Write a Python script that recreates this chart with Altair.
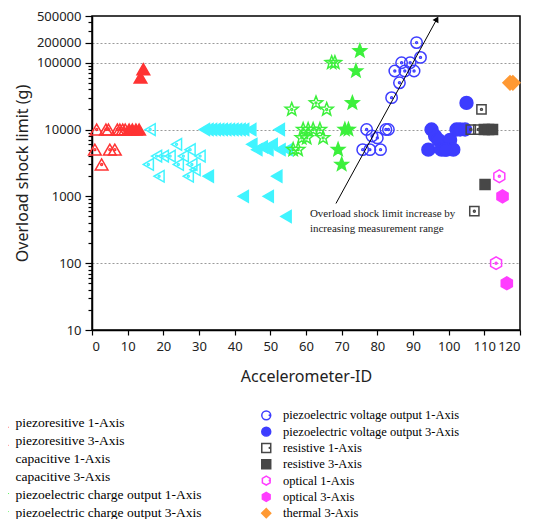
import math
import altair as alt
import pandas as pd

# ---------------- data ----------------
LEFT_NAMES = ["piezoresitive 1-Axis", "piezoresitive 3-Axis",
              "capacitive 1-Axis", "capacitive 3-Axis",
              "piezoelectric charge output 1-Axis", "piezoelectric charge output 3-Axis"]
RIGHT_NAMES = ["piezoelectric voltage output 1-Axis", "piezoelectric voltage output 3-Axis",
               "resistive 1-Axis", "resistive 3-Axis",
               "optical 1-Axis", "optical 3-Axis", "thermal 3-Axis"]

pr1_x = [1.3, 3.9, 4.6, 7.1, 7.8, 8.6, 9.3, 0.8, 2.7, 5.0, 6.4]
pr1_y = [10000, 10000, 10000, 10000, 10000, 10000, 10000, 5000, 3000, 5000, 5000]
pr3_x = [10.4, 11.3, 12.3, 13.2, 13.6, 14.4]
pr3_y = [10000, 10000, 10000, 10000, 60000, 80000]

cap1_x = [16.3, 23.7, 27.5, 15.8, 18.1, 20.0, 21.9, 25.6, 24.2, 28.0, 18.8, 27.0, 28.9, 30.3]
cap1_y = [10000, 6000, 5000, 3000, 4000, 4000, 4000, 4000, 3000, 3000, 2000, 2000, 2500, 4000]
cap3_x = [31.5, 32.5, 33.5, 34.5, 35.5, 36.5, 37.5, 38.5, 39.5, 40.5, 41.5, 42.5, 44.5, 52.5,
          44.8, 46.2, 47.7, 49.3, 50.5, 52.7, 54.7, 32.6, 51.8, 42.4, 49.4, 54.4]
cap3_y = [10000] * 14 + [6000, 5000, 5500, 5000, 6000, 5000, 5000, 2000, 2000, 1000, 1000, 500]

pc1_x = [56.0, 62.8, 65.8, 67.2, 68.1, 59.2, 60.6, 62.0, 63.9, 58.8, 60.2, 64.8, 56.4, 57.8]
pc1_y = [20000, 25000, 20000, 100000, 100000, 10000, 10000, 10000, 10000, 7500, 7500, 7500, 5000, 5000]
pc3_x = [75.1, 74.0, 73.0, 70.9, 71.9, 69.0, 70.0]
pc3_y = [150000, 75000, 25000, 10000, 10000, 5000, 3000]

pv1_x = [77.0, 78.5, 80.0, 82.4, 83.1, 75.9, 77.9, 80.9, 84.0, 86.2, 84.9, 87.7, 90.3, 86.8, 89.2, 92.1, 91.0]
pv1_y = [10000, 8000, 7500, 10000, 10000, 5000, 5000, 5000, 30000, 50000, 75000, 75000, 75000,
         100000, 100000, 120000, 200000]
pv3_x = [105.0, 95.2, 96.2, 97.1, 100.4, 94.3, 98.0, 99.4, 101.3, 102.2, 103.2, 104.6, 99.0]
pv3_y = [25000, 10000, 8000, 7000, 7000, 5000, 5000, 5000, 5000, 10000, 10000, 10000, 5000]

res1_x = [109.2, 106.2, 108.3, 107.2]
res1_y = [20000, 10000, 10000, 600]
res3_x = [110.0, 111.2, 112.3, 110.2]
res3_y = [10000, 10000, 10000, 1500]

opt1_x = [114.2, 113.3]
opt1_y = [2000, 100]
opt3_x = [115.1, 116.3]
opt3_y = [1000, 50]

th3_x = [117.2, 118.0]
th3_y = [50000, 50000]

SERIES = {
    LEFT_NAMES[0]: (pr1_x, pr1_y), LEFT_NAMES[1]: (pr3_x, pr3_y),
    LEFT_NAMES[2]: (cap1_x, cap1_y), LEFT_NAMES[3]: (cap3_x, cap3_y),
    LEFT_NAMES[4]: (pc1_x, pc1_y), LEFT_NAMES[5]: (pc3_x, pc3_y),
    RIGHT_NAMES[0]: (pv1_x, pv1_y), RIGHT_NAMES[1]: (pv3_x, pv3_y),
    RIGHT_NAMES[2]: (res1_x, res1_y), RIGHT_NAMES[3]: (res3_x, res3_y),
    RIGHT_NAMES[4]: (opt1_x, opt1_y), RIGHT_NAMES[5]: (opt3_x, opt3_y),
    RIGHT_NAMES[6]: (th3_x, th3_y),
}

# annotation
arrow_x = [68.4, 96.7]
arrow_y = [782, 451000]
note_x = [61.1, 61.1]
note_y = [536, 320]
note_text = ["Overload shock limit increase by", "increasing measurement range"]

X_TICKS = list(range(0, 121, 10))
Y_MAJOR = [10, 100, 1000, 10000, 100000, 200000, 500000]
Y_MINOR = [k * 10 ** e for e in range(1, 5) for k in range(2, 10)] + [300000, 400000]
Y_GRID = [100, 10000, 100000, 200000]

# ---------------- styling ----------------
RED, CYAN, GREEN, BLUE = "#ff3333", "#40f4ff", "#3cf03c", "#3d3dff"
GRAY, MAG, ORANGE = "#474747", "#ff3dff", "#ff9933"

pts = []
for i in range(10):
    r = 1.0 if i % 2 == 0 else 0.42
    a = math.radians(-90 + 36 * i)
    pts.append(f"{r * math.cos(a):.3f},{r * math.sin(a):.3f}")
STAR = "M" + "L".join(pts) + "Z"
HEX = "M0,-1L0.866,-0.5L0.866,0.5L0,1L-0.866,0.5L-0.866,-0.5Z"

STYLE = {  # shape, colour, filled, size
    LEFT_NAMES[0]: ("triangle-up", RED, False, 160),
    LEFT_NAMES[1]: ("triangle-up", RED, True, 160),
    LEFT_NAMES[2]: ("triangle-left", CYAN, False, 135),
    LEFT_NAMES[3]: ("triangle-left", CYAN, True, 140),
    LEFT_NAMES[4]: (STAR, GREEN, False, 190),
    LEFT_NAMES[5]: (STAR, GREEN, True, 190),
    RIGHT_NAMES[0]: ("circle", BLUE, False, 130),
    RIGHT_NAMES[1]: ("circle", BLUE, True, 165),
    RIGHT_NAMES[2]: ("square", GRAY, False, 85),
    RIGHT_NAMES[3]: ("square", GRAY, True, 100),
    RIGHT_NAMES[4]: (HEX, MAG, False, 160),
    RIGHT_NAMES[5]: (HEX, MAG, True, 165),
    RIGHT_NAMES[6]: ("diamond", ORANGE, True, 200),
}

rows = []
for name, (xs, ys) in SERIES.items():
    for xv, yv in zip(xs, ys):
        rows.append({"x": xv, "y": yv, "series": name})
df = pd.DataFrame(rows)

SANS = "Noto Sans"
SERIF = "Liberation Serif"

maj_test = f"indexof({Y_MAJOR}, datum.value) >= 0"
grid_test = f"indexof({Y_GRID}, datum.value) >= 0"

X = alt.X("x:Q", scale=alt.Scale(domain=[0, 120], nice=False),
          axis=alt.Axis(values=X_TICKS, title="Accelerometer-ID", grid=False,
                        tickSize=5, tickWidth=1.2, tickColor="black",
                        domainColor="black", domainWidth=1.5,
                        labelFont=SANS, labelFontSize=13, labelColor="#222", labelPadding=5,
                        titleFont=SANS, titleFontSize=16, titleFontWeight="normal",
                        titleColor="#222", titlePadding=15, labelOverlap=False))
Y = alt.Y("y:Q", scale=alt.Scale(type="log", domain=[10, 500000], nice=False),
          axis=alt.Axis(values=sorted(Y_MAJOR + Y_MINOR), title="Overload shock limit (g)",
                        labelExpr=f"{maj_test} ? '' + datum.value : ''",
                        tickSize={"condition": {"test": maj_test, "value": 7}, "value": 4},
                        tickWidth=1.2, tickColor="black",
                        domainColor="black", domainWidth=1.5,
                        grid=True, gridDash=[2, 2], gridColor="#9a9a9a", gridWidth=1,
                        gridOpacity={"condition": {"test": grid_test, "value": 1}, "value": 0},
                        labelFont=SANS, labelFontSize=13, labelColor="#222", labelPadding=4,
                        labelOverlap=False, labelBound=False,
                        titleFont=SANS, titleFontSize=16, titleFontWeight="normal",
                        titleColor="#222", titlePadding=6))


def group(names, legend, legend_size, dot_legend=None):
    sc_shape = alt.Scale(domain=names, range=[STYLE[n][0] for n in names])
    sc_stroke = alt.Scale(domain=names, range=[STYLE[n][1] for n in names])
    sc_fill = alt.Scale(domain=names,
                        range=[STYLE[n][1] if STYLE[n][2] else "transparent" for n in names])

    def enc(leg):
        return dict(x=X, y=Y,
                    shape=alt.Shape("series:N", scale=sc_shape, legend=leg),
                    stroke=alt.Stroke("series:N", scale=sc_stroke, legend=leg),
                    fill=alt.Fill("series:N", scale=sc_fill, legend=leg))

    layers = []
    # legend carrier: no drawable positions, only the legend
    leg_df = pd.DataFrame({"series": names, "x": [None] * len(names), "y": [None] * len(names)})
    layers.append(alt.Chart(leg_df).mark_point(size=legend_size, strokeWidth=1.5, opacity=1)
                  .encode(**enc(legend)))
    if dot_legend is not None:
        dnames = [n + " " for n in names]
        dcolors = [STYLE[n][1] if not STYLE[n][2] else "transparent" for n in names]
        dot_df = pd.DataFrame({"dseries": dnames, "x": [None] * len(names), "y": [None] * len(names)})
        layers.append(alt.Chart(dot_df).mark_point(filled=True, shape="circle", size=5, opacity=1)
                      .encode(x=X, y=Y,
                              color=alt.Color("dseries:N",
                                              scale=alt.Scale(domain=dnames, range=dcolors),
                                              legend=dot_legend)))
    for n in names:
        d = df[df.series == n]
        layers.append(alt.Chart(d).mark_point(size=STYLE[n][3], strokeWidth=1.5, opacity=1)
                      .encode(**enc(None)))
    for n in names:
        if not STYLE[n][2]:
            d = df[df.series == n]
            layers.append(alt.Chart(d).mark_point(shape="circle", size=2, strokeWidth=2,
                                                  opacity=1, filled=False)
                          .encode(x=X, y=Y,
                                  stroke=alt.Stroke("series:N", scale=sc_stroke, legend=None)))
    return alt.layer(*layers)


leg_left = alt.Legend(title=None, orient="none", legendX=-96, legendY=400.1, direction="vertical",
                      labelFont=SERIF, labelFontSize=13.5, labelColor="black", labelLimit=400,
                      symbolSize=90, symbolStrokeWidth=1.5, labelOffset=6, rowPadding=3.1,
                      clipHeight=13.5, padding=0)
leg_right = alt.Legend(title=None, orient="none", legendX=168, legendY=393.1, direction="vertical",
                       labelFont=SERIF, labelFontSize=12.5, labelColor="black", labelLimit=400,
                       symbolSize=80, symbolStrokeWidth=1.5, labelOffset=10.6, rowPadding=3.3,
                       clipHeight=12.5, padding=0)
# overlay legend that only adds the centre dots of the open symbols
leg_dots = alt.Legend(title=None, orient="none", legendX=171.35, legendY=393.1, direction="vertical",
                      labelFont=SERIF, labelFontSize=12.5, labelOpacity=0, labelExpr="' '",
                      labelLimit=400, symbolSize=5, symbolStrokeWidth=1.5, labelOffset=10.6,
                      rowPadding=3.3, clipHeight=12.5, padding=0)

gA = group(LEFT_NAMES, leg_left, 90)
gB = group(RIGHT_NAMES, leg_right, 80, leg_dots)

arrow_df = pd.DataFrame({"x": arrow_x, "y": arrow_y, "o": [0, 1]})
arrow_line = alt.Chart(arrow_df).mark_line(color="black", strokeWidth=1).encode(
    x=X, y=Y, order="o:Q")
arrow_head = alt.Chart(arrow_df.iloc[[1]]).mark_point(
    shape="triangle-up", angle=29, size=45, filled=True, color="black", opacity=1).encode(x=X, y=Y)

note_df = pd.DataFrame({"x": note_x, "y": note_y, "t": note_text})
note = alt.Chart(note_df).mark_text(align="left", baseline="middle", font=SERIF, fontSize=11,
                                    color="#222").encode(x=X, y=Y, text="t:N")

chart = (alt.layer(gA, gB, arrow_line, arrow_head, note)
         .resolve_scale(shape="independent", stroke="independent", fill="independent")
         .resolve_legend(shape="independent", stroke="independent", fill="independent")
         .properties(width=428, height=314,
                     autosize=alt.AutoSizeParams(type="none"),
                     padding={"left": 84, "top": 8, "right": 10, "bottom": 189})
         .configure_view(stroke="black", strokeWidth=1.5))

chart.save("out.html", embed_options={"renderer": "svg", "actions": False})
